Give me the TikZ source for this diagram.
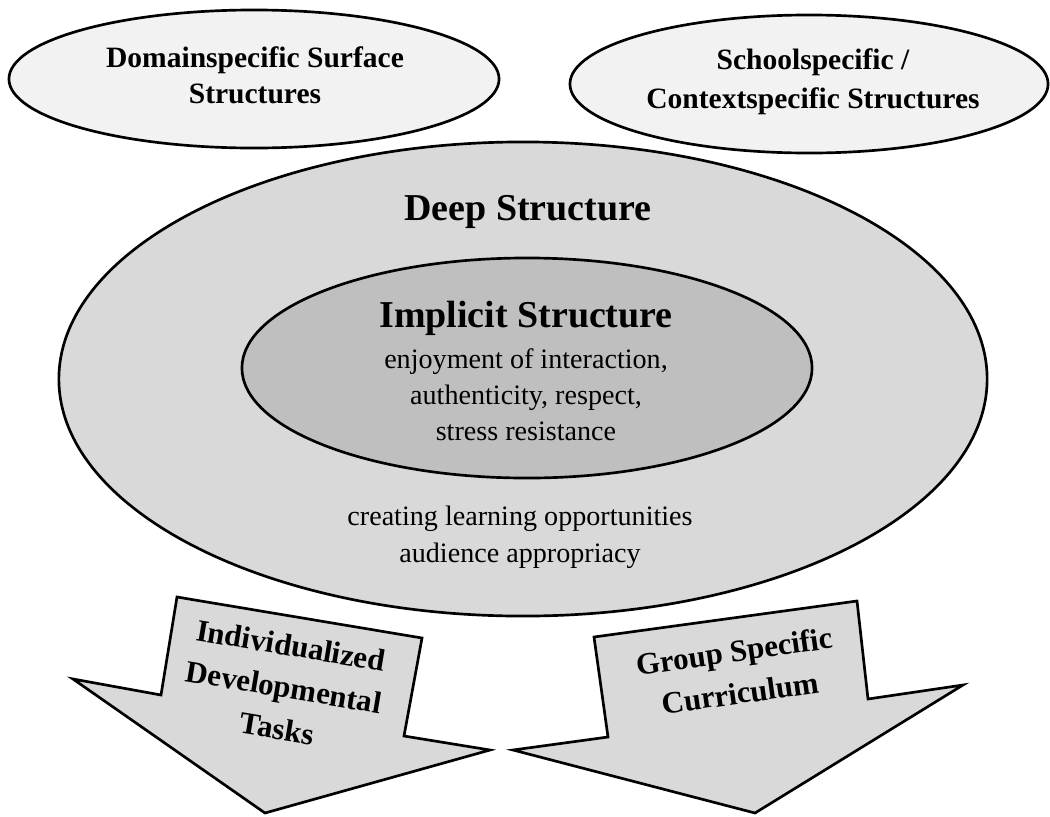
\documentclass[tikz,border=0pt]{standalone}
\usepackage{xcolor}
\usepackage{fontspec}
\setmainfont{Liberation Serif}
\usetikzlibrary{shapes.geometric,calc,positioning}

\definecolor{surfacefill}{HTML}{F2F2F2}
\definecolor{deepfill}{HTML}{D9D9D9}
\definecolor{implfill}{HTML}{BFBFBF}

\begin{document}
\begin{tikzpicture}[x=0.025cm, y=-0.025cm,
    oval/.style={ellipse, draw, line width=1.9pt, inner sep=0pt},
    arrowbox/.style={draw, line width=1.9pt, fill=deepfill, line join=miter},
    txt/.style={align=center, anchor=base, inner sep=0pt}]
  \useasboundingbox (0,0) rectangle (1050,816);

  \node[oval, fill=surfacefill, minimum width=12.25cm, minimum height=3.45cm] (s1) at (254,79) {};
  \node[oval, fill=surfacefill, minimum width=11.95cm, minimum height=3.45cm] (s2) at (809,84) {};
  \node[oval, fill=deepfill, minimum width=23.2cm, minimum height=11.85cm] (d1) at (523,379) {};
  \node[oval, fill=implfill, minimum width=14.25cm, minimum height=5.5cm] (i1) at (527,368) {};

  % base of a multi-line text is its last line
  \node[txt, font=\bfseries\fontsize{21}{25.6}\selectfont] (l1) at ($(s1)+(1,24)$)
    {Domainspecific Surface\\Structures};
  \node[txt, font=\bfseries\fontsize{21}{27.7}\selectfont] (l2) at ($(s2)+(4,24)$)
    {Schoolspecific /\\Contextspecific Structures};
  \node[txt, font=\bfseries\fontsize{27}{30}\selectfont] (l3) at ($(d1)+(5,-159)$)
    {Deep Structure};
  \node[txt, font=\bfseries\fontsize{27}{30}\selectfont] (l4) at ($(i1)+(-1,-41)$)
    {Implicit Structure};
  \node[txt, font=\fontsize{20}{25.6}\selectfont] (l5) at ($(i1)+(-1,72)$)
    {enjoyment of interaction,\\authenticity, respect,\\stress resistance};
  \node[txt, font=\fontsize{20}{26.3}\selectfont] (l6) at ($(d1)+(-3,183)$)
    {creating learning opportunities\\audience appropriacy};

  % block arrows
  \draw[arrowbox] (177,597) -- (422,638) -- (404,736) -- (490,750) -- (265,813)
    -- (73,679) -- (161,695) -- cycle;
  \draw[arrowbox] (594,637) -- (857,601) -- (868,699) -- (963,685) -- (755,813)
    -- (513,750) -- (608,737) -- cycle;

  \node[align=center, rotate=-9.5, font=\bfseries\fontsize{22}{30}\selectfont] (t1) at (284,687)
    {Individualized\\Developmental\\Tasks};
  \node[align=center, rotate=8, font=\bfseries\fontsize{22}{30}\selectfont] (t2) at (737,672)
    {Group Specific\\Curriculum};
\end{tikzpicture}
\end{document}
